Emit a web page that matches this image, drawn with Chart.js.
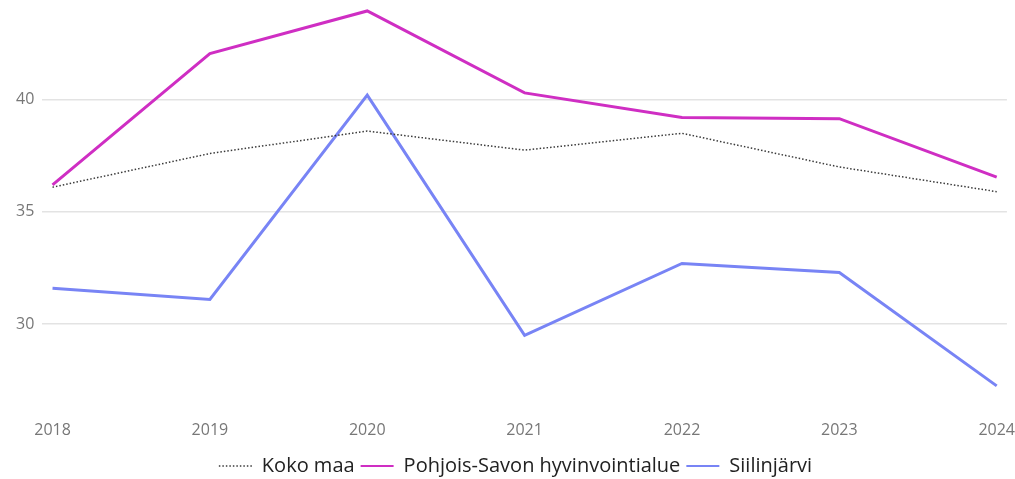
<!DOCTYPE html>
<html>
<head>
<meta charset="utf-8">
<script src="https://cdn.jsdelivr.net/npm/chart.js@4.4.1/dist/chart.umd.min.js"></script>
<style>
html,body{margin:0;padding:0;background:#fff;}
#wrap{width:1015px;height:479px;}
</style>
</head>
<body>
<div id="wrap"><canvas id="c" width="1015" height="479"></canvas></div>
<script>
const years = [2018, 2019, 2020, 2021, 2022, 2023, 2024];
const kokoMaa = [36.1, 37.6, 38.6, 37.75, 38.5, 37.0, 35.9];
const pohjoisSavo = [36.2, 42.05, 43.95, 40.3, 39.2, 39.15, 36.55];
const siilinjarvi = [31.6, 31.1, 40.2, 29.5, 32.7, 32.3, 27.25];
const yTicks = [30, 35, 40];

const pts = arr => arr.map((v, i) => ({x: years[i], y: v}));

const chart = new Chart(document.getElementById('c'), {
  type: 'line',
  data: {
    datasets: [
      {label: 'Koko maa', data: pts(kokoMaa), borderColor: '#3a3a3a', borderWidth: 1.5, borderDash: [1.5, 2], pointRadius: 0, pointStyle: 'line', tension: 0, clip: false},
      {label: 'Pohjois-Savon hyvinvointialue', data: pts(pohjoisSavo), borderColor: '#cf2ec3', borderWidth: 3, pointRadius: 0, pointStyle: 'line', tension: 0, clip: false},
      {label: 'Siilinjärvi', data: pts(siilinjarvi), borderColor: '#7884f5', borderWidth: 3, pointRadius: 0, pointStyle: 'line', tension: 0, clip: false}
    ]
  },
  options: {
    responsive: false,
    animation: false,
    layout: {padding: {left: 16, right: 0, top: 0, bottom: 0}},
    plugins: {
      tooltip: {enabled: false},
      legend: {
        position: 'bottom',
        maxHeight: 29,
        labels: {
          usePointStyle: true,
          pointStyleWidth: 33,
          boxHeight: 4,
          padding: 6,
          color: '#222',
          font: {family: 'Open Sans', size: 20},
          generateLabels: ch => ch.data.datasets.map((ds, i) => ({
            text: ds.label,
            datasetIndex: i,
            fillStyle: ds.borderColor,
            strokeStyle: ds.borderColor,
            lineWidth: i === 0 ? 1.5 : 2,
            lineDash: ds.borderDash || [],
            pointStyle: 'line',
            hidden: false,
            fontColor: '#222'
          }))
        }
      }
    },
    scales: {
      x: {
        type: 'linear',
        min: years[0] - 0.065,
        max: years[years.length - 1] + 0.065,
        afterBuildTicks: axis => { axis.ticks = years.map(v => ({value: v})); },
        afterFit: axis => { axis.height = 50; },
        grid: {display: true, drawOnChartArea: false, drawTicks: true, tickLength: 21, tickColor: 'rgba(0,0,0,0)', color: 'rgba(0,0,0,0)'},
        border: {display: false},
        ticks: {
          color: '#777',
          font: {family: 'Open Sans', size: 16},
          padding: 0,
          maxRotation: 0,
          callback: v => String(v)
        }
      },
      y: {
        min: 26.62,
        max: 44.01,
        afterBuildTicks: axis => { axis.ticks = yTicks.map(v => ({value: v})); },
        grid: {color: '#e3e3e3', lineWidth: 1.5, drawTicks: true, tickLength: 8, tickColor: 'rgba(0,0,0,0)'},
        border: {display: false},
        ticks: {
          color: '#777',
          font: {family: 'Open Sans', size: 16},
          padding: 0
        }
      }
    }
  }
});
</script>
</body>
</html>
